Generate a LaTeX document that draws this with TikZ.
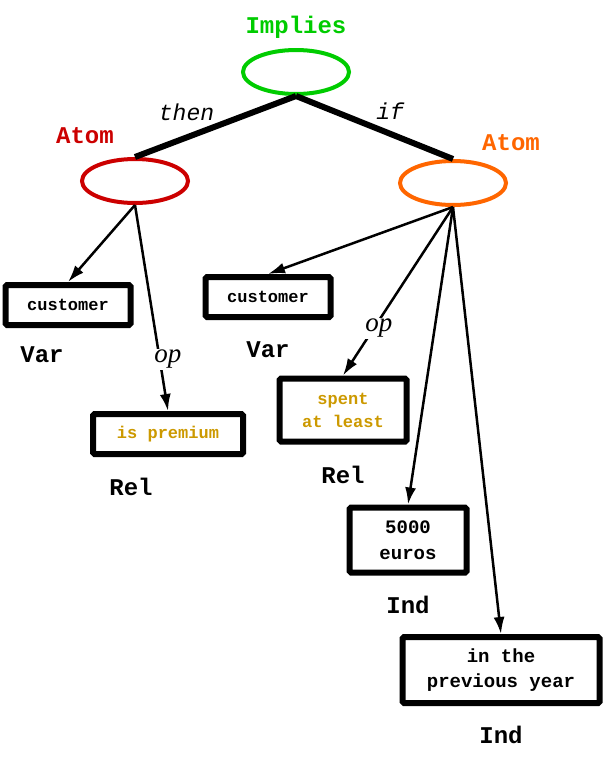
\documentclass[tikz,border=0pt]{standalone}
\usepackage{fontspec}
\setmainfont{Liberation Serif}
\setmonofont{Liberation Mono}
\usetikzlibrary{positioning}
\usetikzlibrary{shapes.geometric}
\usetikzlibrary{arrows.meta}

\definecolor{impliesgreen}{RGB}{0,204,0}
\definecolor{thenred}{RGB}{204,0,0}
\definecolor{iforange}{RGB}{255,102,0}
\definecolor{relgold}{RGB}{204,153,0}

\begin{document}
\begin{tikzpicture}[x=1pt, y=-1pt, on grid,
                          roundnode/.style={ellipse, draw, line width=4pt, minimum width=106pt, minimum height=44pt, inner sep=0pt},
                          squarednode/.style={rectangle, draw, line width=6pt, rounded corners=1.5pt, minimum height=40pt, align=center, font=\fontsize{17}{23}\selectfont\ttfamily\bfseries},
                          typelabel/.style={font=\fontsize{24}{26}\selectfont\ttfamily\bfseries},
                          edgelabel/.style={font=\fontsize{23}{25}\selectfont\ttfamily\itshape},
                          oplabel/.style={font=\fontsize{27}{29}\selectfont\itshape, fill=white, inner sep=1pt},
                          thickedge/.style={line width=6pt},
                          arrowedge/.style={line width=2.5pt, -{Latex[length=17pt, width=11pt]}},
                      ]
                      \useasboundingbox (0,0) rectangle (604,758);
                      % Nodes
                      \path (296,72) coordinate (root_pos);
                      \node[roundnode, draw=impliesgreen]   (implies)     at (root_pos)             {};
                      \node[typelabel, text=impliesgreen]   (implies_lbl) [above=45pt of implies]   {Implies};

                      \node[roundnode, draw=thenred]        (atom_then)     [below left=109pt and 161pt of implies]   {};
                      \node[typelabel, text=thenred]        (atom_then_lbl) [above left=45pt and 50pt of atom_then]   {Atom};
                      \node[squarednode, minimum width=125pt]  (var_then)   [below left=124pt and 67pt of atom_then]  {customer};
                      \node[typelabel]                      (var_then_lbl)  [below left=50pt and 26pt of var_then]    {Var};
                      \node[squarednode, minimum width=150pt, text=relgold]  (rel_then)  [below right=253pt and 33pt of atom_then]  {is premium};
                      \node[typelabel]                      (rel_then_lbl)  [below left=53pt and 37pt of rel_then]    {Rel};

                      \node[roundnode, draw=iforange]       (atom_if)       [below right=111pt and 157pt of implies]  {};
                      \node[typelabel, text=iforange]       (atom_if_lbl)   [above right=40pt and 58pt of atom_if]    {Atom};
                      \node[squarednode, minimum width=125pt]  (var_if)     [below left=114pt and 185pt of atom_if]   {customer};
                      \node[typelabel]                      (var_if_lbl)    [below=53pt of var_if]                    {Var};
                      \node[squarednode, minimum width=127pt, minimum height=63pt, text=relgold]  (rel_if)  [below left=227pt and 110pt of atom_if]  {spent\\at least};
                      \node[typelabel]                      (rel_if_lbl)    [below=65pt of rel_if]                    {Rel};
                      \node[squarednode, minimum width=117pt, minimum height=65pt, font=\fontsize{19}{26}\selectfont\ttfamily\bfseries]  (ind_amount)  [below left=357pt and 45pt of atom_if]  {5000\\euros};
                      \node[typelabel]                      (ind_amount_lbl) [below=65pt of ind_amount]               {Ind};
                      \node[squarednode, minimum width=197pt, minimum height=66pt, font=\fontsize{19}{25}\selectfont\ttfamily\bfseries]  (ind_time)  [below right=487pt and 48pt of atom_if]  {in the\\previous year};
                      \node[typelabel]                      (ind_time_lbl)  [below=65pt of ind_time]                  {Ind};

                      %Lines
                      \draw[thickedge] (implies.south) -- node[edgelabel, pos=0.68, yshift=25pt] {then} (atom_then.north);
                      \draw[thickedge] (implies.south) -- node[edgelabel, pos=0.6, yshift=23pt] {if} (atom_if.north);
                      \draw[arrowedge] (atom_then.south) -- (var_then.north);
                      \draw[arrowedge] (atom_then.south) -- node[oplabel, pos=0.75, xshift=8pt] {op} (rel_then.north);
                      \draw[arrowedge] (atom_if.south) -- (var_if.north);
                      \draw[arrowedge] (atom_if.south) -- node[oplabel, pos=0.72, xshift=5pt] {op} (rel_if.north);
                      \draw[arrowedge] (atom_if.south) -- (ind_amount.north);
                      \draw[arrowedge] (atom_if.south) -- (ind_time.north);
                  \end{tikzpicture}
\end{document}
